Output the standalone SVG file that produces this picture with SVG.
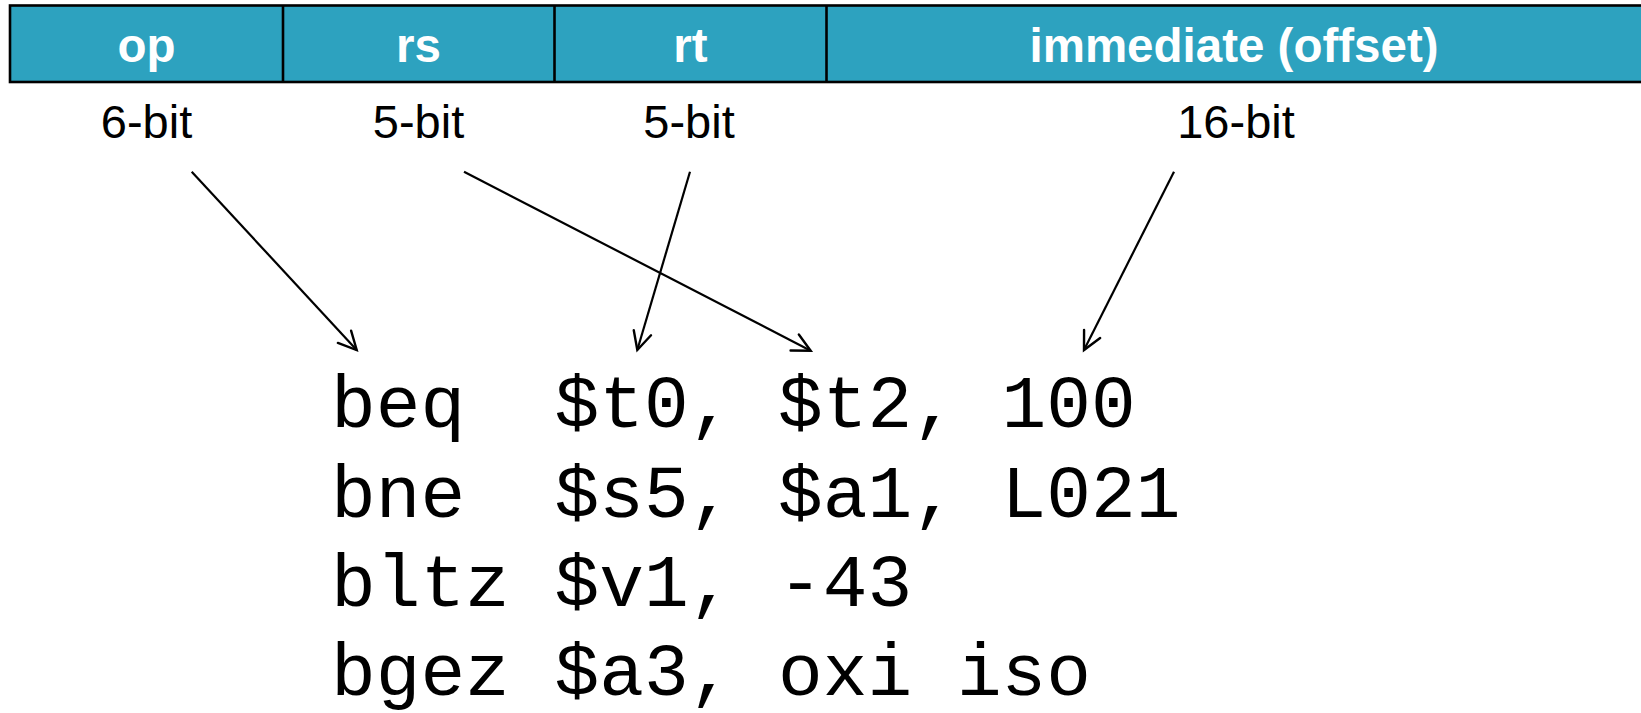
<svg xmlns="http://www.w3.org/2000/svg" width="1641" height="713" viewBox="0 0 1641 713">
  <style>
    .field { fill: #2DA2BF; stroke: #000; stroke-width: 2.6; }
    .divider { stroke: #000; stroke-width: 2.6; }
    .head { font-family: "Liberation Sans", Arial, sans-serif; font-weight: bold; font-size: 47.5px; fill: #fff; text-anchor: middle; }
    .bits { font-family: "Liberation Sans", Arial, sans-serif; font-size: 47px; fill: #000; text-anchor: middle; }
    .code { font-family: "Liberation Mono", "Courier New", monospace; font-size: 74.5px; fill: #000; }
    .arrow { fill: none; stroke: #000; stroke-width: 2.2; marker-end: url(#open); }
  </style>
  <defs>
    <marker id="open" markerUnits="userSpaceOnUse" viewBox="-22 -12 26 24" markerWidth="26" markerHeight="24" refX="0" refY="0" orient="auto">
      <path d="M-18,-9 L0,0 L-18,9" fill="none" stroke="#000" stroke-width="2.4" stroke-linecap="round" stroke-linejoin="miter"/>
    </marker>
  </defs>
  <rect width="1641" height="713" fill="#fff"/>

  <!-- instruction format bar -->
  <g id="format-bar">
    <rect class="field" x="10" y="5.5" width="1640" height="76.5"/>
    <line class="divider" x1="283" y1="5.5" x2="283" y2="82"/>
    <line class="divider" x1="554.5" y1="5.5" x2="554.5" y2="82"/>
    <line class="divider" x1="826.5" y1="5.5" x2="826.5" y2="82"/>
  </g>
  <g id="field-op">
    <text class="head" x="146.5" y="62">op</text>
    <text class="bits" x="146.5" y="138">6-bit</text>
  </g>
  <g id="field-rs">
    <text class="head" x="418.5" y="62">rs</text>
    <text class="bits" x="418.5" y="138">5-bit</text>
  </g>
  <g id="field-rt">
    <text class="head" x="690.5" y="62">rt</text>
    <text class="bits" x="689" y="138">5-bit</text>
  </g>
  <g id="field-imm">
    <text class="head" x="1234" y="62">immediate (offset)</text>
    <text class="bits" x="1236" y="138">16-bit</text>
  </g>

  <!-- field-to-operand connectors -->
  <g id="connectors">
    <line class="arrow" x1="191.7" y1="171.7" x2="356.7" y2="350"/>
    <line class="arrow" x1="464" y1="171.7" x2="810.7" y2="350.7"/>
    <line class="arrow" x1="690" y1="171.7" x2="637.3" y2="350"/>
    <line class="arrow" x1="1174" y1="171.7" x2="1084" y2="350"/>
  </g>

  <!-- branch instruction examples -->
  <g id="code">
    <text class="code" x="331" y="426.7" xml:space="preserve">beq  $t0, $t2, 100</text>
    <text class="code" x="331" y="516.7" xml:space="preserve">bne  $s5, $a1, L021</text>
    <text class="code" x="331" y="606" xml:space="preserve">bltz $v1, -43</text>
    <text class="code" x="331" y="695" xml:space="preserve">bgez $a3, oxi iso</text>
  </g>
</svg>
